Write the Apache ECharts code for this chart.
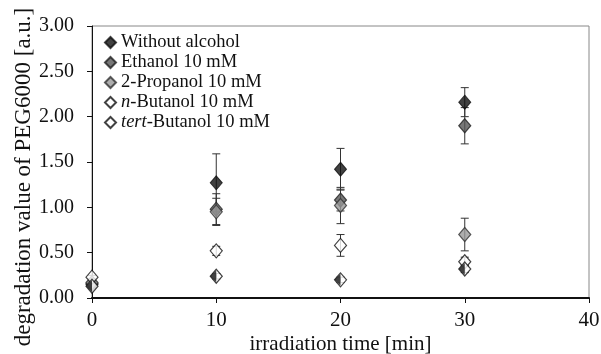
<!DOCTYPE html>
<html>
<head>
<meta charset="utf-8">
<script src="https://cdn.jsdelivr.net/npm/echarts@6/dist/echarts.min.js"></script>
<style>
  html, body { margin: 0; padding: 0; background: #fff; }
  #chart { width: 601px; height: 354px; }
</style>
</head>
<body>
<div id="chart"></div>
<script>
// irradiation time [min]
var times = [0, 10, 20, 30];

// degradation values and error half-widths
var withoutAlcohol = [0.15, 1.27, 1.42, 2.16];
var withoutErr = [0.02, 0.32, 0.23, 0.16];
var ethanol = [0.16, 0.98, 1.08, 1.90];
var ethanolErr = [0.02, 0.17, 0.12, 0.20];
var propanol = [0.17, 0.95, 1.02, 0.70];
var propanolErr = [0.02, 0.15, 0.20, 0.18];
var nButanol = [0.23, 0.52, 0.58, 0.40];
var nButanolErr = [0.02, 0.05, 0.12, 0.05];
var tertButanol = [0.13, 0.24, 0.20, 0.32];
var tertButanolErr = [0.02, 0.03, 0.03, 0.04];

var names = ['Without alcohol', 'Ethanol 10 mM', '2-Propanol 10 mM', 'n-Butanol 10 mM', 'tert-Butanol 10 mM'];
var font = '"Liberation Serif", "DejaVu Serif", serif';

var chart = echarts.init(document.getElementById('chart'));

function pts(vals) {
  return vals.map(function (v, i) { return [times[i], v]; });
}
function errPts(vals, errs) {
  return vals.map(function (v, i) { return [times[i], v - errs[i], v + errs[i]]; });
}

// vertical error bar with caps
function renderErr(params, api) {
  var lo = api.coord([api.value(0), api.value(1)]);
  var hi = api.coord([api.value(0), api.value(2)]);
  var w = 4;
  var st = { stroke: '#333', lineWidth: 1 };
  return {
    type: 'group',
    children: [
      { type: 'line', shape: { x1: lo[0], y1: lo[1], x2: hi[0], y2: hi[1] }, style: st },
      { type: 'line', shape: { x1: lo[0] - w, y1: lo[1], x2: lo[0] + w, y2: lo[1] }, style: st },
      { type: 'line', shape: { x1: hi[0] - w, y1: hi[1], x2: hi[0] + w, y2: hi[1] }, style: st }
    ]
  };
}

function errSeries(vals, errs) {
  return {
    type: 'custom',
    renderItem: renderErr,
    data: errPts(vals, errs),
    z: 1,
    silent: true
  };
}

var halfDiamond = 'path://M0,10 L10,0 L10,20 Z';

var option = {
  animation: false,
  grid: {
    left: 92, right: 12, top: 26, bottom: 56,
    outerBoundsMode: 'none', containLabel: false,
    show: true, borderColor: '#888', borderWidth: 1
  },
  legend: {
    left: 99, top: 28,
    orient: 'vertical',
    itemGap: 1,
    itemWidth: 11, itemHeight: 11,
    data: names,
    formatter: function (n) {
      if (n.indexOf('n-') === 0) return '{i|n}-' + n.slice(2);
      if (n.indexOf('tert-') === 0) return '{i|tert}-' + n.slice(5);
      return n;
    },
    textStyle: {
      fontFamily: font, fontSize: 18.5, color: '#111',
      rich: { i: { fontFamily: font, fontSize: 18.5, fontStyle: 'italic', color: '#111' } }
    }
  },
  xAxis: {
    type: 'value', min: 0, max: 40, interval: 10,
    name: 'irradiation time [min]', nameLocation: 'middle', nameGap: 36,
    nameMoveOverlap: false,
    nameTextStyle: { fontFamily: font, fontSize: 21, color: '#111' },
    splitLine: { show: false },
    axisLine: { lineStyle: { color: '#111', width: 2 } },
    axisTick: { inside: false, length: 5, lineStyle: { color: '#111' } },
    axisLabel: { fontFamily: font, fontSize: 21, color: '#111', margin: 12 }
  },
  yAxis: {
    type: 'value', min: 0, max: 3, interval: 0.5,
    name: 'degradation value of PEG6000 [a.u.]', nameLocation: 'middle', nameGap: 57,
    nameMoveOverlap: false,
    nameTextStyle: { fontFamily: font, fontSize: 23, color: '#111', padding: [0, 30, 0, 0] },
    splitLine: { show: false },
    axisLine: { lineStyle: { color: '#111', width: 1 } },
    axisTick: { inside: false, length: 5, lineStyle: { color: '#111' } },
    axisLabel: { fontFamily: font, fontSize: 20, color: '#111', margin: 18,
      formatter: function (v) { return v.toFixed(2); } }
  },
  series: [
    errSeries(withoutAlcohol, withoutErr),
    errSeries(ethanol, ethanolErr),
    errSeries(propanol, propanolErr),
    errSeries(nButanol, nButanolErr),
    errSeries(tertButanol, tertButanolErr),
    {
      name: names[0], type: 'scatter', symbol: 'diamond', symbolSize: [12, 14], z: 5,
      itemStyle: { color: '#111', borderColor: '#111', borderWidth: 1 },
      data: pts(withoutAlcohol)
    },
    {
      name: names[1], type: 'scatter', symbol: 'diamond', symbolSize: [12, 14], z: 5,
      itemStyle: { color: '#555', borderColor: '#222', borderWidth: 1.2 },
      data: pts(ethanol)
    },
    {
      name: names[2], type: 'scatter', symbol: 'diamond', symbolSize: [12, 14], z: 5,
      itemStyle: { color: '#999', borderColor: '#333', borderWidth: 1.2 },
      data: pts(propanol)
    },
    {
      name: names[3], type: 'scatter', symbol: 'diamond', symbolSize: [12, 14], z: 5,
      itemStyle: { color: '#fff', borderColor: '#111', borderWidth: 1.2 },
      data: pts(nButanol)
    },
    {
      name: names[4], type: 'scatter', symbol: 'diamond', symbolSize: [12, 14], z: 5,
      itemStyle: { color: '#fff', borderColor: '#111', borderWidth: 1.2 },
      data: pts(tertButanol)
    },
    {
      // dark half of the tert-Butanol marker
      type: 'scatter', symbol: halfDiamond, symbolSize: [6, 12], symbolOffset: [-3, 0], z: 6,
      silent: true,
      itemStyle: { color: '#111' },
      data: pts(tertButanol)
    }
  ]
};

chart.setOption(option);
</script>
</body>
</html>
